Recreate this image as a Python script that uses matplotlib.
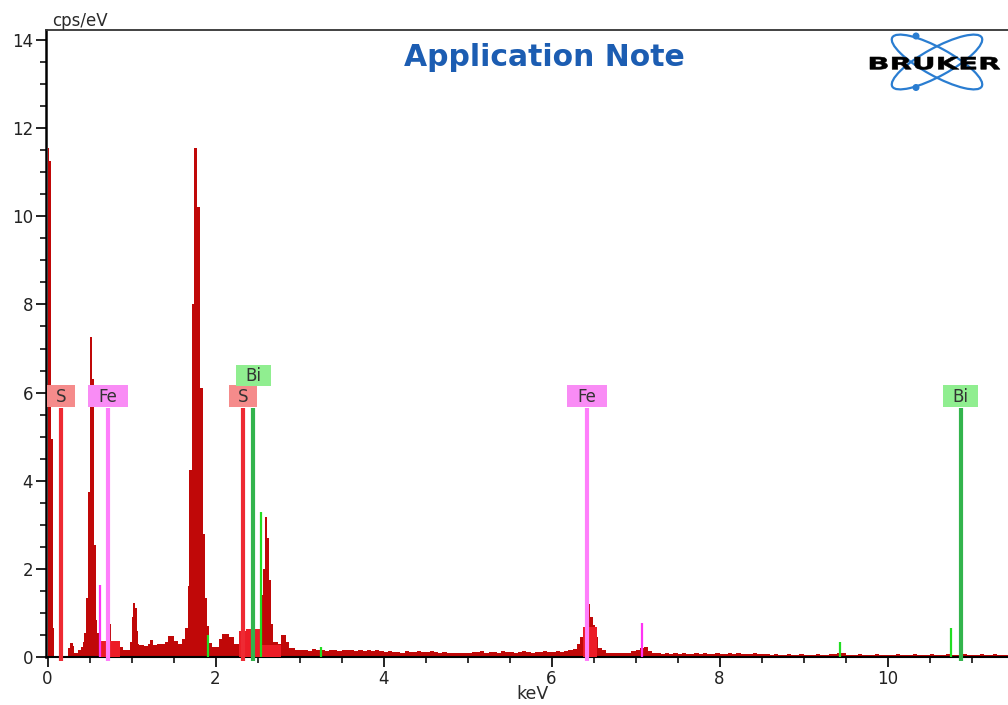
import numpy as np
import matplotlib
matplotlib.use("Agg")
import matplotlib.pyplot as plt
from matplotlib.patches import Ellipse, Circle, PathPatch, Rectangle
from matplotlib.textpath import TextPath
from matplotlib.font_manager import FontProperties
from matplotlib.ticker import MultipleLocator
from matplotlib.transforms import Affine2D

# ---------------- data ----------------
# peak region of the spectrum: bin edges (keV) and counts (cps/eV)
peak_edges = [0.0, 0.015, 0.04, 0.065, 0.08, 0.24, 0.27, 0.30, 0.32, 0.36, 0.40, 0.42,
              0.44, 0.46, 0.48, 0.50, 0.53, 0.555, 0.575, 0.595, 0.62, 0.64, 0.73, 0.76,
              0.80, 0.86, 0.90, 0.98, 1.00, 1.02, 1.045, 1.06, 1.075, 1.09, 1.15, 1.20,
              1.22, 1.25, 1.30, 1.40, 1.44, 1.50, 1.55, 1.60, 1.64, 1.67, 1.69, 1.72,
              1.742, 1.774, 1.81, 1.85, 1.88, 1.90, 1.92, 1.96, 2.04, 2.08, 2.16, 2.22,
              2.28, 2.36, 2.50, 2.54, 2.57, 2.59, 2.615, 2.635, 2.66, 2.69, 2.74, 2.78,
              2.84, 2.88, 2.95]
peak_vals = [11.55, 11.25, 4.95, 0.65, 0.0, 0.2, 0.32, 0.25, 0.1, 0.15, 0.22, 0.35,
             0.55, 1.35, 3.75, 7.25, 6.3, 2.55, 0.85, 0.55, 0.3, 0.35, 0.76, 0.35,
             0.3, 0.22, 0.16, 0.35, 0.9, 1.22, 1.12, 0.6, 0.3, 0.27, 0.26, 0.3,
             0.38, 0.28, 0.3, 0.33, 0.48, 0.36, 0.3, 0.4, 0.65, 1.6, 4.25, 8.0,
             11.55, 10.2, 6.1, 2.8, 1.35, 0.7, 0.32, 0.22, 0.4, 0.52, 0.45, 0.3,
             0.55, 0.62, 0.6, 1.4, 2.0, 3.18, 2.7, 1.75, 0.75, 0.35, 0.3, 0.5,
             0.35, 0.2]

# background 2.95 - 6.25 keV, 0.05 keV bins
bg1_start = 2.95
bg1_vals = [0.17, 0.15, 0.16, 0.14, 0.18, 0.15, 0.16, 0.13, 0.17, 0.15, 0.14, 0.16,
            0.15, 0.17, 0.14, 0.15, 0.13, 0.16, 0.14, 0.15, 0.13,
            0.12, 0.13, 0.11, 0.12, 0.10, 0.13, 0.12, 0.11, 0.14, 0.12, 0.11, 0.13,
            0.12, 0.10, 0.11, 0.09, 0.08, 0.09, 0.08, 0.09,
            0.10, 0.12, 0.11, 0.13, 0.10, 0.11, 0.12, 0.10, 0.13, 0.11, 0.12, 0.10,
            0.11, 0.13, 0.12, 0.10, 0.12, 0.11, 0.13, 0.11, 0.12, 0.14, 0.12, 0.13, 0.15]

# Fe K-alpha region
fe_edges = [6.25, 6.30, 6.34, 6.37, 6.43, 6.46, 6.49, 6.52, 6.55, 6.60, 6.65]
fe_vals = [0.18, 0.3, 0.45, 0.65, 1.2, 0.9, 0.72, 0.45, 0.2, 0.15]

# background 6.65 - 11.45 keV, 0.05 keV bins
bg2_start = 6.65
bg2_vals = [0.09, 0.08, 0.10, 0.08, 0.09, 0.10,
            0.13, 0.17, 0.20, 0.22, 0.14,
            0.09, 0.08, 0.07, 0.08, 0.06, 0.08, 0.07, 0.09, 0.07, 0.06, 0.08, 0.07,
            0.08, 0.06, 0.07, 0.08, 0.07, 0.06, 0.08, 0.07, 0.09, 0.07, 0.06, 0.07,
            0.08, 0.06, 0.07, 0.06,
            0.05, 0.06, 0.04, 0.05, 0.06, 0.05, 0.04, 0.06, 0.05, 0.04, 0.05, 0.06,
            0.04, 0.05, 0.06,
            0.07, 0.10, 0.08, 0.05,
            0.05, 0.04, 0.06, 0.05, 0.04, 0.05, 0.06, 0.04, 0.05, 0.05, 0.04, 0.06,
            0.05, 0.04, 0.05, 0.06, 0.04, 0.05, 0.04, 0.06, 0.05, 0.04, 0.05, 0.06,
            0.05, 0.04, 0.05, 0.07, 0.05, 0.04, 0.05, 0.06, 0.04, 0.05, 0.06, 0.04,
            0.05, 0.05]
bg_step = 0.05

# fitted element regions (bright red overlay)
roi_segments = [([0.64, 0.86], [0.36]),
                ([2.28, 2.36, 2.54, 2.78], [0.58, 0.64, 0.27]),
                ([6.37, 6.54], [0.68])]

# labelled element lines: label, energy (keV), label level (cps/eV)
elem_labels = ["S", "Fe", "S", "Bi", "Fe", "Bi"]
elem_energy = [0.165, 0.715, 2.33, 2.45, 6.42, 10.87]
elem_level = [5.92, 5.92, 5.92, 6.39, 5.92, 5.92]
line_top = 5.65

# small unlabelled lines: energy, height, element
minor_energy = [0.62, 7.08, 1.915, 2.545, 3.25, 9.44, 10.76]
minor_height = [1.63, 0.78, 0.5, 3.3, 0.22, 0.33, 0.66]
minor_elem = ["Fe", "Fe", "Bi", "Bi", "Bi", "Bi", "Bi"]

line_colors = {"S": "#EE2A33", "Fe": "#FF7EFB", "Bi": "#33B44C"}
minor_colors = {"Fe": "#FF33F5", "Bi": "#22DD22"}
box_colors = {"S": "#F58B8B", "Fe": "#F98CF5", "Bi": "#90EE90"}
box_width_px = {"S": 28, "Fe": 40, "Bi": 35}

# ---------------- build spectrum ----------------
bg1_edges = bg1_start + bg_step * np.arange(len(bg1_vals) + 1)
bg2_edges = bg2_start + bg_step * np.arange(len(bg2_vals) + 1)
edges = np.concatenate([peak_edges, bg1_edges[1:], fe_edges[1:], bg2_edges[1:]])
vals = np.concatenate([peak_vals, bg1_vals, fe_vals, bg2_vals])

# ---------------- figure ----------------
W, H = 1008, 705
fig = plt.figure(figsize=(W / 100, H / 100), dpi=100)
px_per_kev = 84.0
px_per_unit = 44.07
x0_px, ax_left_px, ax_top_px, ax_bot_px = 47.5, 45.5, 30.0, 657.0
ax = fig.add_axes([ax_left_px / W, (H - ax_bot_px) / H, (W - ax_left_px) / W,
                   (ax_bot_px - ax_top_px) / H])
ax.set_xlim(-(x0_px - ax_left_px) / px_per_kev, (W - x0_px) / px_per_kev)
ax.set_ylim(0, (ax_bot_px - ax_top_px) / px_per_unit)

ax.stairs(vals, edges, fill=True, color="#C00808", lw=0, zorder=2)
for e, v in roi_segments:
    ax.stairs(v, e, fill=True, color="#EC1C26", lw=0, zorder=3)

for en, h, el in zip(minor_energy, minor_height, minor_elem):
    ax.plot([en, en], [0, h], color=minor_colors[el], lw=1.6, zorder=4,
            solid_capstyle="butt")

for lab, en, lev in zip(elem_labels, elem_energy, elem_level):
    ax.plot([en, en], [-0.1, line_top], color=line_colors[lab], lw=3.0, zorder=4,
            solid_capstyle="butt", clip_on=False)
    bw = box_width_px[lab] / px_per_kev
    bh = 21.5 / px_per_unit
    ax.add_patch(Rectangle((en - bw / 2, lev - bh / 2), bw, bh, fc=box_colors[lab],
                           ec="none", zorder=5, clip_on=False))
    ax.text(en, lev - 0.01, lab, ha="center", va="center", fontsize=12,
            color="#333333", zorder=6)

ax.xaxis.set_major_locator(MultipleLocator(2))
ax.xaxis.set_minor_locator(MultipleLocator(0.5))
ax.yaxis.set_major_locator(MultipleLocator(2))
ax.yaxis.set_minor_locator(MultipleLocator(0.5))
ax.tick_params(which="major", length=7, width=1.3, labelsize=12, pad=2,
               colors="#111111", labelcolor="#222222")
ax.tick_params(which="minor", length=4, width=1.2, colors="#111111")
ax.spines["right"].set_visible(False)
ax.spines["left"].set_linewidth(1.8)
ax.spines["bottom"].set_linewidth(1.5)
ax.spines["top"].set_linewidth(1.3)
ax.spines["top"].set_color("#333333")

# ---------------- overlay (pixel coordinates) ----------------
ov = fig.add_axes([0, 0, 1, 1], zorder=10)
ov.set_xlim(0, W)
ov.set_ylim(H, 0)
ov.axis("off")
ov.patch.set_alpha(0)

ov.text(52, 21, "cps/eV", ha="left", va="center", fontsize=12, color="#2b2b2b")
ov.text(533, 694, "keV", ha="center", va="center", fontsize=12.5, color="#2b2b2b")
ov.text(544, 58, "Application Note", ha="center", va="center", fontsize=21.5,
        fontweight="bold", color="#1C5DB2", family="DejaVu Sans")

# Bruker logo
logo_blue = "#2A7DD1"
for ang in (28.7, -28.7):
    ov.add_patch(Ellipse((937, 62), 102, 28, angle=ang, fill=False, ec=logo_blue, lw=1.6))
for cy in (36, 87.5):
    ov.add_patch(Circle((916, cy), 3.5, fc=logo_blue, ec="none"))
fp = FontProperties(family="DejaVu Sans", weight="bold")
tp = TextPath((0, 0), "BRUKER", size=10, prop=fp)
ext = tp.get_extents()
tr = Affine2D().translate(-ext.x0, -ext.y0).scale(130 / ext.width, -12.5 / ext.height).translate(870, 69.5)
ov.add_patch(PathPatch(tr.transform_path(tp), fc="black", ec="black", lw=0.4))

fig.savefig("out.png", dpi=100)
